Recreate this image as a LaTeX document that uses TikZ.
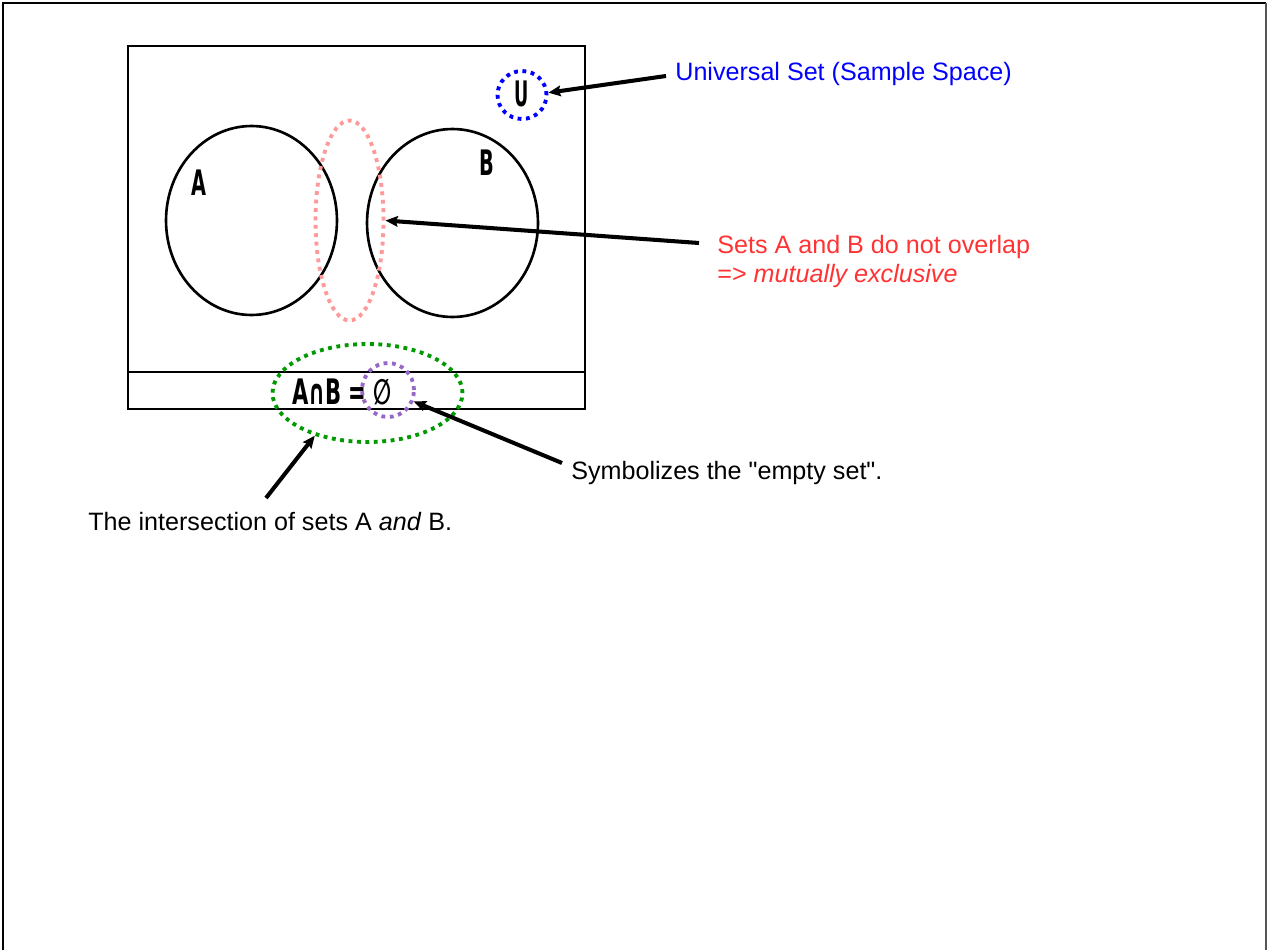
\documentclass[tikz,border=0pt]{standalone}
\usepackage{fontspec}
\usepackage{graphicx}
\setmainfont{Liberation Sans}[Ligatures=TeXOff]
\newfontfamily\dejavu{DejaVu Sans}
\usepackage{tikz}
\usetikzlibrary{arrows.meta,positioning,shapes.geometric}
\definecolor{cBlue}{HTML}{0000FF}
\definecolor{cRed}{HTML}{FF3333}
\definecolor{cPink}{HTML}{FF9999}
\definecolor{cGreen}{HTML}{009900}
\definecolor{cPurple}{HTML}{9669C8}
\definecolor{cFrame}{HTML}{555555}
\newcommand{\narrowtxt}[2][0.55]{\scalebox{#1}[1]{#2}}
\tikzset{
  ring/.style={ellipse,draw=#1,line width=2.2pt,dash pattern=on 2.2pt off 2.6pt,inner sep=0pt},
  setring/.style={ellipse,draw=black,line width=1.5pt,inner sep=0pt},
  arr/.style={-{Stealth[length=7pt,width=6pt,inset=1pt]},line width=2.3pt,color=black},
  note/.style={font=\fontsize{14.3}{16.5}\selectfont,inner sep=0pt,anchor=base west},
  letter/.style={font=\dejavu\bfseries\fontsize{20}{20}\selectfont,inner sep=0pt},
}
\begin{document}
\begin{tikzpicture}[x=0.02cm,y=-0.02cm]
    \useasboundingbox (0,0) rectangle (1270,950);
    % page frame (open at the bottom)
    \draw[black,line width=1.2pt] (3,950) -- (3,3) -- (1266,3);
    \draw[cFrame,line width=1.2pt] (1266,3) -- (1266,950);
    % venn box with the formula strip
    \draw[black,line width=1pt] (128,46) rectangle (585,409);
    \draw[black,line width=1.6pt] (128,372) -- (585,372);
    % sets
    \node[setring,minimum width=3.42cm,minimum height=3.78cm] (setA) at (251.5,220.5) {};
    \node[setring,minimum width=3.42cm,minimum height=3.76cm] (setB) at (452.5,223) {};
    \node[letter] (lblA) at (199,183) {\narrowtxt{A}};
    \node[letter] (lblB) at (487,163) {\narrowtxt{B}};
    \node[letter] (lblU) at (522,94) {\narrowtxt[0.5]{U}};
    \node[letter] (formula) at (342,392) {\narrowtxt[0.6]{A∩B = ∅}};
    % dotted highlights
    \node[ring=cBlue,minimum width=0.98cm,minimum height=0.96cm] (uRing) at (522,95) {};
    \node[ring=cPink,minimum width=1.36cm,minimum height=4.0cm] (gapRing) at (349.5,220.5) {};
    \node[ring=cGreen,minimum width=3.8cm,minimum height=1.96cm] (capRing) at (367.5,393) {};
    \node[ring=cPurple,minimum width=1.04cm,minimum height=1.08cm] (emptyRing) at (388,390) {};
    % notes
    \node[note,text=cBlue] (uText) at (675,80) {Universal Set (Sample Space)};
    \node[note,text=cRed,anchor=north west,align=left] (gapText) at (717,235)
      {Sets A and B do not overlap\\=> \textit{mutually exclusive}};
    \node[note] (emptyText) at (571,479) {Symbolizes the "empty set".};
    \node[note] (capText) at (88,530) {The intersection of sets A \textit{and} B.};
    % arrow tails
    \coordinate (uTail) at (666,76);
    \coordinate (gapTail) at (699,243);
    \coordinate (emptyTail) at (562,463);
    \coordinate (capTail) at (266,498);
    \draw[arr] (uTail) -- (uRing.5);
    \draw[arr] (gapTail) -- (gapRing.east);
    \draw[arr] (emptyTail) -- (emptyRing.-24);
    \draw[arr] (capTail) -- (capRing.219);
  \end{tikzpicture}
\end{document}
